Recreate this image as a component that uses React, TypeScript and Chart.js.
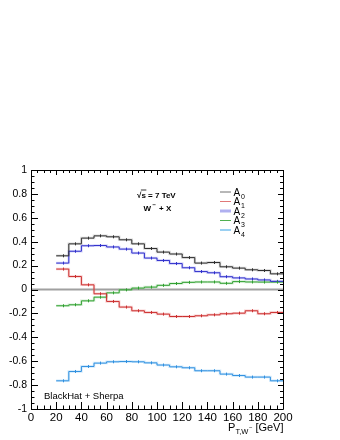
import React, { useEffect, useRef } from "react";
import { Chart, registerables } from "chart.js";

Chart.register(...registerables);

// ---- data ----
const binEdges = [20, 30, 40, 50, 60, 70, 80, 90, 100, 110, 120, 130, 140, 150, 160, 170, 180, 190, 200];
const A0 = [0.282, 0.382, 0.43, 0.449, 0.441, 0.416, 0.382, 0.343, 0.313, 0.297, 0.267, 0.221, 0.226, 0.19, 0.179, 0.165, 0.159, 0.131];
const A1 = [0.171, 0.109, 0.039, -0.036, -0.1, -0.147, -0.178, -0.192, -0.206, -0.226, -0.226, -0.22, -0.212, -0.203, -0.198, -0.178, -0.203, -0.192];
const A2 = [0.221, 0.32, 0.366, 0.368, 0.356, 0.338, 0.305, 0.263, 0.243, 0.217, 0.182, 0.15, 0.14, 0.107, 0.097, 0.088, 0.08, 0.068];
const A3 = [-0.136, -0.128, -0.095, -0.064, -0.028, -0.003, 0.012, 0.02, 0.035, 0.05, 0.06, 0.063, 0.063, 0.052, 0.066, 0.063, 0.062, 0.062];
const A4 = [-0.764, -0.686, -0.644, -0.616, -0.605, -0.603, -0.605, -0.614, -0.632, -0.647, -0.655, -0.68, -0.68, -0.708, -0.72, -0.733, -0.733, -0.764];
const seriesNames = ["0", "1", "2", "3", "4"];
const xTickValues = [0, 20, 40, 60, 80, 100, 120, 140, 160, 180, 200];
const yTickValues = [-1, -0.8, -0.6, -0.4, -0.2, 0, 0.2, 0.4, 0.6, 0.8, 1];

const FONT = "'Liberation Sans', Arial, Helvetica, sans-serif";

const lineColors = ["#303030", "#cc3030", "#3030cc", "#30a030", "#3090e0"];
const bandColors = ["rgba(150,150,150,0.35)", "rgba(235,130,130,0.35)", "rgba(150,150,240,0.4)", "rgba(140,210,140,0.35)", "rgba(140,200,245,0.4)"];
const legendColors = ["#707070", "#e07878", "#b0b0f0", "#50b050", "#9ad0f2"];
const legendWidths = [1, 1, 3, 1, 2];

function stepPoints(vals: number[]) {
  return binEdges.map((e, i) => ({ x: e, y: vals[Math.min(i, vals.length - 1)] }));
}

const framePlugin = {
  id: "rootFrame",
  beforeDatasetsDraw(chart: any) {
    const { ctx, chartArea } = chart;
    const y = chart.scales.y;
    ctx.save();
    ctx.strokeStyle = "#a0a0a0";
    ctx.lineWidth = 2;
    ctx.beginPath();
    const py = y.getPixelForValue(0);
    ctx.moveTo(chartArea.left, py);
    ctx.lineTo(chartArea.right, py);
    ctx.stroke();
    ctx.restore();
  },
  afterDatasetsDraw(chart: any) {
    const { ctx, chartArea } = chart;
    const xs = chart.scales.x;
    const ys = chart.scales.y;
    const { left, right, top, bottom } = chartArea;
    ctx.save();

    // small error-bar ticks at bin centres
    [A0, A1, A2, A3, A4].forEach((vals, si) => {
      ctx.strokeStyle = lineColors[si];
      ctx.lineWidth = 1;
      ctx.beginPath();
      vals.forEach((v, i) => {
        const px = Math.round(xs.getPixelForValue((binEdges[i] + binEdges[i + 1]) / 2)) + 0.5;
        const py = ys.getPixelForValue(v);
        ctx.moveTo(px, py - 1.5);
        ctx.lineTo(px, py + 1.5);
      });
      ctx.stroke();
    });

    ctx.strokeStyle = "#000";
    ctx.lineWidth = 1;
    ctx.beginPath();
    ctx.rect(Math.round(left) + 0.5, Math.round(top) + 0.5, Math.round(right - left), Math.round(bottom - top));
    ctx.stroke();

    // x ticks
    ctx.beginPath();
    for (let v = 0; v <= 200; v += 5) {
      const px = Math.round(xs.getPixelForValue(v)) + 0.5;
      const major = v % 20 === 0;
      const lb = major ? 7 : 3.5;
      const lt = major ? 5 : 3;
      ctx.moveTo(px, bottom);
      ctx.lineTo(px, bottom - lb);
      ctx.moveTo(px, top);
      ctx.lineTo(px, top + lt);
    }
    // y ticks
    for (let i = -20; i <= 20; i++) {
      const v = i * 0.05;
      const py = Math.round(ys.getPixelForValue(v)) + 0.5;
      const major = i % 4 === 0;
      const ll = major ? 7 : 3.5;
      const lr = major ? 5 : 3;
      ctx.moveTo(left, py);
      ctx.lineTo(left + ll, py);
      ctx.moveTo(right, py);
      ctx.lineTo(right - lr, py);
    }
    ctx.stroke();

    ctx.fillStyle = "#000";
    ctx.textBaseline = "alphabetic";
    ctx.textAlign = "left";

    // sqrt(s) = 7 TeV
    ctx.font = `bold 8px ${FONT}`;
    let x0 = 137;
    const by = 197.5;
    ctx.fillText("\u221A", x0, by);
    const wr = ctx.measureText("\u221A").width;
    ctx.fillText("s", x0 + wr, by);
    const ws = ctx.measureText("s").width;
    ctx.beginPath();
    ctx.lineWidth = 0.8;
    ctx.moveTo(x0 + wr - 0.5, by - 7.5);
    ctx.lineTo(x0 + wr + ws + 0.5, by - 7.5);
    ctx.stroke();
    ctx.fillText(" = 7 TeV", x0 + wr + ws, by);

    // W- + X
    x0 = 143.5;
    const wy = 210.5;
    ctx.fillText("W", x0, wy);
    const ww = ctx.measureText("W").width;
    ctx.font = `bold 6px ${FONT}`;
    ctx.fillText("\u2212", x0 + ww + 1.5, wy - 4);
    ctx.font = `bold 8px ${FONT}`;
    ctx.fillText("+ X", x0 + ww + 8, wy);

    // BlackHat + Sherpa
    ctx.font = `9.5px ${FONT}`;
    ctx.fillText("BlackHat + Sherpa", 44, 399);

    // legend
    const legY = [192, 201.5, 211, 220.5, 230];
    seriesNames.forEach((n, i) => {
      ctx.strokeStyle = legendColors[i];
      ctx.lineWidth = legendWidths[i];
      ctx.beginPath();
      ctx.moveTo(220, legY[i]);
      ctx.lineTo(231, legY[i]);
      ctx.stroke();
      ctx.fillStyle = "#000";
      ctx.font = `10px ${FONT}`;
      ctx.fillText("A", 233.5, legY[i] + 3.5);
      ctx.font = `7px ${FONT}`;
      ctx.fillText(n, 241, legY[i] + 6.5);
    });

    // x axis title
    ctx.fillStyle = "#000";
    ctx.font = `11px ${FONT}`;
    const ty = 431;
    ctx.fillText("P", 228, ty);
    ctx.font = `7.5px ${FONT}`;
    ctx.fillText("T,W", 235.5, ty + 3);
    const wtw = ctx.measureText("T,W").width;
    ctx.font = `6px ${FONT}`;
    ctx.fillText("\u2212", 235.5 + wtw + 0.5, ty - 2);
    ctx.font = `11px ${FONT}`;
    ctx.textAlign = "right";
    ctx.fillText("[GeV]", 283.5, ty);
    ctx.restore();
  },
};

export default function App() {
  const ref = useRef<HTMLCanvasElement | null>(null);
  useEffect(() => {
    if (!ref.current) return;
    const all = [A0, A1, A2, A3, A4];
    const datasets: any[] = [];
    all.forEach((vals, i) => {
      datasets.push({
        type: "line",
        label: "band" + i,
        data: stepPoints(vals),
        stepped: "before",
        borderColor: bandColors[i],
        borderWidth: 2.5,
        pointRadius: 0,
        fill: false,
        order: 3,
      });
      datasets.push({
        type: "line",
        label: "A" + seriesNames[i],
        data: stepPoints(vals),
        stepped: "before",
        borderColor: lineColors[i],
        borderWidth: 1,
        pointRadius: 0,
        fill: false,
        order: 2,
      });
    });
    const chart = new Chart(ref.current, {
      type: "line",
      data: { datasets },
      options: {
        animation: false,
        responsive: false,
        maintainAspectRatio: false,
        devicePixelRatio: 1,
        layout: { padding: { top: 170, right: 57, left: 0, bottom: 0 } },
        plugins: { legend: { display: false }, tooltip: { enabled: false } },
        elements: { line: { tension: 0 } },
        scales: {
          x: {
            type: "linear",
            min: 0,
            max: 200,
            grid: { display: false, drawTicks: false },
            border: { display: false },
            afterBuildTicks: (s: any) => {
              s.ticks = xTickValues.map((v) => ({ value: v }));
            },
            afterFit: (s: any) => {
              s.height = 31;
            },
            ticks: {
              autoSkip: false,
              maxRotation: 0,
              minRotation: 0,
              padding: 2,
              color: "#000",
              font: { family: FONT, size: 11.5 },
              callback: (v: any) => String(v),
            },
          },
          y: {
            type: "linear",
            min: -1,
            max: 1,
            grid: { display: false, drawTicks: false },
            border: { display: false },
            afterBuildTicks: (s: any) => {
              s.ticks = yTickValues.map((v) => ({ value: v }));
            },
            afterFit: (s: any) => {
              s.width = 31;
            },
            ticks: {
              autoSkip: false,
              padding: 4,
              color: "#000",
              font: { family: FONT, size: 10.5 },
              callback: (v: any) => {
                const r = Math.round(Number(v) * 10) / 10;
                return r === 0 ? "0" : String(r);
              },
            },
          },
        },
      },
      plugins: [framePlugin],
    });
    return () => chart.destroy();
  }, []);
  return (
    <div style={{ position: "absolute", left: 0, top: 0, width: 340, height: 440, background: "#fff" }}>
      <canvas ref={ref} width={340} height={440} style={{ display: "block", width: 340, height: 440 }} />
    </div>
  );
}
